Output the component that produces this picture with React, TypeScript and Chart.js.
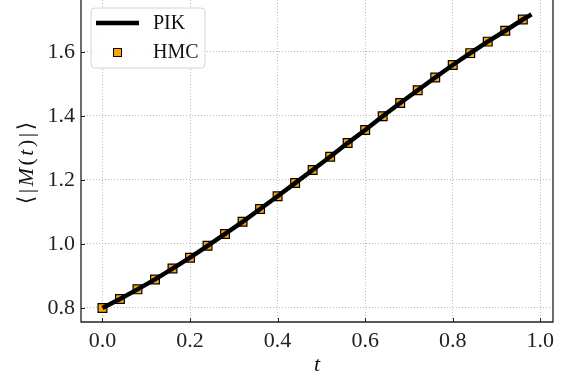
import React, { useEffect, useRef } from "react";
import { Chart, registerables } from "chart.js";

Chart.register(...registerables);

const hmcT = [0, 0.04, 0.08, 0.12, 0.16, 0.2, 0.24, 0.28, 0.32, 0.36, 0.4, 0.44, 0.48, 0.52, 0.56, 0.6, 0.64, 0.68, 0.72, 0.76, 0.8, 0.84, 0.88, 0.92, 0.96];
const hmcM = [0.8, 0.828, 0.858, 0.889, 0.923, 0.957, 0.994, 1.031, 1.069, 1.109, 1.149, 1.19, 1.231, 1.272, 1.315, 1.356, 1.399, 1.44, 1.48, 1.52, 1.559, 1.596, 1.632, 1.666, 1.701];
const pikT = [0, 0.04, 0.08, 0.12, 0.16, 0.2, 0.24, 0.28, 0.32, 0.36, 0.4, 0.44, 0.48, 0.52, 0.56, 0.6, 0.64, 0.68, 0.72, 0.76, 0.8, 0.84, 0.88, 0.92, 0.96, 0.98];
const pikM = [0.8, 0.828, 0.858, 0.889, 0.923, 0.957, 0.994, 1.031, 1.069, 1.109, 1.149, 1.19, 1.231, 1.272, 1.315, 1.356, 1.399, 1.44, 1.48, 1.52, 1.559, 1.596, 1.632, 1.666, 1.701, 1.717];
const xTicks = [0, 0.2, 0.4, 0.6, 0.8, 1.0];
const yTicks = [0.8, 1.0, 1.2, 1.4, 1.6];

const SERIF = "'Liberation Serif', 'DejaVu Serif', serif";

const topPlugin = {
  id: "forceTop",
  afterLayout(chart: any) {
    const a = chart.chartArea;
    a.top = 0;
    a.height = a.bottom - a.top;
    const y = chart.scales.y;
    y.top = 0;
    y.height = y.bottom - y.top;
    y.configure();
  },
};

const framePlugin = {
  id: "frame",
  afterDatasetsDraw(chart: any) {
    const { ctx, chartArea: a, scales } = chart;
    ctx.save();
    ctx.strokeStyle = "#222";
    ctx.lineWidth = 1;
    ctx.beginPath();
    xTicks.forEach((v) => {
      const px = Math.round(scales.x.getPixelForValue(v)) + 0.5;
      ctx.moveTo(px, a.bottom);
      ctx.lineTo(px, a.bottom - 4);
    });
    yTicks.forEach((v) => {
      const py = Math.round(scales.y.getPixelForValue(v)) + 0.5;
      ctx.moveTo(a.left, py);
      ctx.lineTo(a.left + 4, py);
    });
    ctx.stroke();
    ctx.lineWidth = 1.3;
    ctx.strokeStyle = "#222";
    ctx.beginPath();
    ctx.moveTo(a.left, 0);
    ctx.lineTo(a.left, a.bottom);
    ctx.lineTo(a.right, a.bottom);
    ctx.lineTo(a.right, 0);
    ctx.stroke();

    // legend
    const lx = a.left + 10;
    const ly = 8;
    const lw = 114;
    const lh = 60;
    const r = 4;
    ctx.beginPath();
    ctx.moveTo(lx + r, ly);
    ctx.lineTo(lx + lw - r, ly);
    ctx.quadraticCurveTo(lx + lw, ly, lx + lw, ly + r);
    ctx.lineTo(lx + lw, ly + lh - r);
    ctx.quadraticCurveTo(lx + lw, ly + lh, lx + lw - r, ly + lh);
    ctx.lineTo(lx + r, ly + lh);
    ctx.quadraticCurveTo(lx, ly + lh, lx, ly + lh - r);
    ctx.lineTo(lx, ly + r);
    ctx.quadraticCurveTo(lx, ly, lx + r, ly);
    ctx.closePath();
    ctx.fillStyle = "rgba(255,255,255,0.85)";
    ctx.fill();
    ctx.strokeStyle = "#d4d4d4";
    ctx.lineWidth = 1;
    ctx.stroke();

    const ds = chart.data.datasets;
    ctx.strokeStyle = "#000";
    ctx.lineWidth = 4.5;
    ctx.beginPath();
    ctx.moveTo(lx + 5, ly + 15);
    ctx.lineTo(lx + 48, ly + 15);
    ctx.stroke();

    ctx.fillStyle = "#FFA500";
    ctx.strokeStyle = "#000";
    ctx.lineWidth = 1;
    ctx.fillRect(lx + 22, ly + 40, 9, 9);
    ctx.strokeRect(lx + 22.5, ly + 40.5, 8, 8);

    ctx.fillStyle = "#111";
    ctx.font = `20px ${SERIF}`;
    ctx.textAlign = "left";
    ctx.textBaseline = "middle";
    ctx.fillText(ds[0].label, lx + 62, ly + 16);
    ctx.fillText(ds[1].label, lx + 62, ly + 45);

    // axis titles
    ctx.fillStyle = "#111";
    ctx.textBaseline = "middle";
    ctx.font = `italic 22px ${SERIF}`;
    ctx.textAlign = "center";
    ctx.fillText("t", (a.left + a.right) / 2, 365);
    const parts: [string, boolean][] = [
      ["⟨", false],
      ["|", false],
      ["M", true],
      ["(", false],
      ["t", true],
      [")", false],
      ["|", false],
      ["⟩", false],
    ];
    const gap = 2.5;
    const fontOf = (it: boolean) => `${it ? "italic " : ""}22px ${SERIF}`;
    let total = 0;
    const widths = parts.map(([s, it]) => {
      ctx.font = fontOf(it);
      const w = ctx.measureText(s).width;
      total += w;
      return w;
    });
    total += gap * (parts.length - 1);
    ctx.save();
    ctx.translate(27, 163);
    ctx.rotate(-Math.PI / 2);
    ctx.textAlign = "left";
    let cx = -total / 2;
    parts.forEach(([s, it], i) => {
      ctx.font = fontOf(it);
      ctx.fillText(s, cx, 0);
      cx += widths[i] + gap;
    });
    ctx.restore();
    ctx.restore();
  },
};

export default function App() {
  const ref = useRef<HTMLCanvasElement | null>(null);
  useEffect(() => {
    if (!ref.current) return;
    Chart.defaults.font.family = SERIF;
    const chart = new Chart(ref.current, {
      type: "line",
      data: {
        datasets: [
          {
            label: "PIK",
            data: pikT.map((t, i) => ({ x: t, y: pikM[i] })),
            borderColor: "#000",
            borderWidth: 4.5,
            pointRadius: 0,
            tension: 0,
            fill: false,
          },
          {
            label: "HMC",
            data: hmcT.map((t, i) => ({ x: t, y: hmcM[i] })),
            showLine: false,
            pointStyle: "rect",
            pointRadius: 6.2,
            backgroundColor: "#FFA500",
            borderColor: "#000",
            borderWidth: 1.2,
          },
        ],
      },
      options: {
        animation: false,
        responsive: false,
        devicePixelRatio: 1,
        layout: { padding: { left: 0, right: 16, top: 0, bottom: 0 } },
        plugins: { legend: { display: false }, tooltip: { enabled: false } },
        scales: {
          x: {
            type: "linear",
            min: -0.049,
            max: 1.029,
            afterBuildTicks: (s: any) => {
              s.ticks = xTicks.map((v) => ({ value: v }));
            },
            afterFit: (s: any) => {
              s.height = 63;
              s.paddingLeft = 0;
              s.paddingRight = 0;
            },
            ticks: {
              callback: (v: any) => Number(v).toFixed(1),
              font: { size: 22 },
              color: "#222",
              padding: 6,
              maxRotation: 0,
              autoSkip: false,
            },
            grid: { color: "rgba(170,170,170,0.8)", lineWidth: 1, drawTicks: false },
            border: { display: false, dash: [1, 2] },
          },
          y: {
            type: "linear",
            min: 0.756,
            max: 1.762,
            afterBuildTicks: (s: any) => {
              s.ticks = yTicks.map((v) => ({ value: v }));
            },
            afterFit: (s: any) => {
              s.width = 81;
              s.paddingTop = 0;
              s.paddingBottom = 0;
            },
            ticks: {
              callback: (v: any) => Number(v).toFixed(1),
              font: { size: 22 },
              color: "#222",
              padding: 6,
              autoSkip: false,
            },
            grid: { color: "rgba(170,170,170,0.8)", lineWidth: 1, drawTicks: false },
            border: { display: false, dash: [1, 2] },
          },
        },
      },
      plugins: [topPlugin, framePlugin],
    });
    return () => chart.destroy();
  }, []);
  return (
    <div style={{ position: "absolute", left: 0, top: 0, width: 569, height: 385, background: "#fff" }}>
      <canvas ref={ref} width={569} height={385} style={{ width: 569, height: 385 }} />
    </div>
  );
}
